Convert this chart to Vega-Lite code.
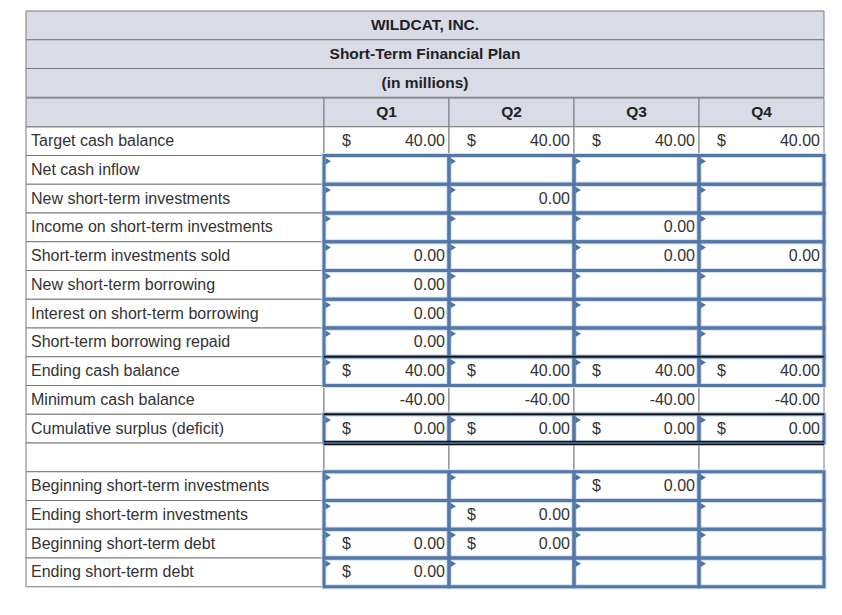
{
  "$schema": "https://vega.github.io/schema/vega-lite/v6.json",
  "padding": {"left": 25, "top": 10, "right": 19, "bottom": 30},
  "background": "white",
  "config": {"view": {"stroke": null}, "font": "Liberation Sans"},
  "datasets": {
    "titles": [
      {"r": 0, "t": "WILDCAT, INC."},
      {"r": 1, "t": "Short-Term Financial Plan"},
      {"r": 2, "t": "(in millions)"}
    ],
    "labels": [
      {"r": 0, "label": ""},
      {"r": 1, "label": "Target cash balance"},
      {"r": 2, "label": "Net cash inflow"},
      {"r": 3, "label": "New short-term investments"},
      {"r": 4, "label": "Income on short-term investments"},
      {"r": 5, "label": "Short-term investments sold"},
      {"r": 6, "label": "New short-term borrowing"},
      {"r": 7, "label": "Interest on short-term borrowing"},
      {"r": 8, "label": "Short-term borrowing repaid"},
      {"r": 9, "label": "Ending cash balance"},
      {"r": 10, "label": "Minimum cash balance"},
      {"r": 11, "label": "Cumulative surplus (deficit)"},
      {"r": 12, "label": ""},
      {"r": 13, "label": "Beginning short-term investments"},
      {"r": 14, "label": "Ending short-term investments"},
      {"r": 15, "label": "Beginning short-term debt"},
      {"r": 16, "label": "Ending short-term debt"}
    ],
    "qhead": [
      {"r": 0, "q": "Q1"}, {"r": 0, "q": "Q2"}, {"r": 0, "q": "Q3"}, {"r": 0, "q": "Q4"}
    ],
    "cells": [
      {"r": 1, "q": "Q1", "d": "$", "v": "40.00", "inp": false},
      {"r": 1, "q": "Q2", "d": "$", "v": "40.00", "inp": false},
      {"r": 1, "q": "Q3", "d": "$", "v": "40.00", "inp": false},
      {"r": 1, "q": "Q4", "d": "$", "v": "40.00", "inp": false},
      {"r": 2, "q": "Q1", "d": "", "v": "", "inp": true},
      {"r": 2, "q": "Q2", "d": "", "v": "", "inp": true},
      {"r": 2, "q": "Q3", "d": "", "v": "", "inp": true},
      {"r": 2, "q": "Q4", "d": "", "v": "", "inp": true},
      {"r": 3, "q": "Q1", "d": "", "v": "", "inp": true},
      {"r": 3, "q": "Q2", "d": "", "v": "0.00", "inp": true},
      {"r": 3, "q": "Q3", "d": "", "v": "", "inp": true},
      {"r": 3, "q": "Q4", "d": "", "v": "", "inp": true},
      {"r": 4, "q": "Q1", "d": "", "v": "", "inp": true},
      {"r": 4, "q": "Q2", "d": "", "v": "", "inp": true},
      {"r": 4, "q": "Q3", "d": "", "v": "0.00", "inp": true},
      {"r": 4, "q": "Q4", "d": "", "v": "", "inp": true},
      {"r": 5, "q": "Q1", "d": "", "v": "0.00", "inp": true},
      {"r": 5, "q": "Q2", "d": "", "v": "", "inp": true},
      {"r": 5, "q": "Q3", "d": "", "v": "0.00", "inp": true},
      {"r": 5, "q": "Q4", "d": "", "v": "0.00", "inp": true},
      {"r": 6, "q": "Q1", "d": "", "v": "0.00", "inp": true},
      {"r": 6, "q": "Q2", "d": "", "v": "", "inp": true},
      {"r": 6, "q": "Q3", "d": "", "v": "", "inp": true},
      {"r": 6, "q": "Q4", "d": "", "v": "", "inp": true},
      {"r": 7, "q": "Q1", "d": "", "v": "0.00", "inp": true},
      {"r": 7, "q": "Q2", "d": "", "v": "", "inp": true},
      {"r": 7, "q": "Q3", "d": "", "v": "", "inp": true},
      {"r": 7, "q": "Q4", "d": "", "v": "", "inp": true},
      {"r": 8, "q": "Q1", "d": "", "v": "0.00", "inp": true},
      {"r": 8, "q": "Q2", "d": "", "v": "", "inp": true},
      {"r": 8, "q": "Q3", "d": "", "v": "", "inp": true},
      {"r": 8, "q": "Q4", "d": "", "v": "", "inp": true},
      {"r": 9, "q": "Q1", "d": "$", "v": "40.00", "inp": true},
      {"r": 9, "q": "Q2", "d": "$", "v": "40.00", "inp": true},
      {"r": 9, "q": "Q3", "d": "$", "v": "40.00", "inp": true},
      {"r": 9, "q": "Q4", "d": "$", "v": "40.00", "inp": true},
      {"r": 10, "q": "Q1", "d": "", "v": "-40.00", "inp": false},
      {"r": 10, "q": "Q2", "d": "", "v": "-40.00", "inp": false},
      {"r": 10, "q": "Q3", "d": "", "v": "-40.00", "inp": false},
      {"r": 10, "q": "Q4", "d": "", "v": "-40.00", "inp": false},
      {"r": 11, "q": "Q1", "d": "$", "v": "0.00", "inp": true},
      {"r": 11, "q": "Q2", "d": "$", "v": "0.00", "inp": true},
      {"r": 11, "q": "Q3", "d": "$", "v": "0.00", "inp": true},
      {"r": 11, "q": "Q4", "d": "$", "v": "0.00", "inp": true},
      {"r": 12, "q": "Q1", "d": "", "v": "", "inp": false},
      {"r": 12, "q": "Q2", "d": "", "v": "", "inp": false},
      {"r": 12, "q": "Q3", "d": "", "v": "", "inp": false},
      {"r": 12, "q": "Q4", "d": "", "v": "", "inp": false},
      {"r": 13, "q": "Q1", "d": "", "v": "", "inp": true},
      {"r": 13, "q": "Q2", "d": "", "v": "", "inp": true},
      {"r": 13, "q": "Q3", "d": "$", "v": "0.00", "inp": true},
      {"r": 13, "q": "Q4", "d": "", "v": "", "inp": true},
      {"r": 14, "q": "Q1", "d": "", "v": "", "inp": true},
      {"r": 14, "q": "Q2", "d": "$", "v": "0.00", "inp": true},
      {"r": 14, "q": "Q3", "d": "", "v": "", "inp": true},
      {"r": 14, "q": "Q4", "d": "", "v": "", "inp": true},
      {"r": 15, "q": "Q1", "d": "$", "v": "0.00", "inp": true},
      {"r": 15, "q": "Q2", "d": "$", "v": "0.00", "inp": true},
      {"r": 15, "q": "Q3", "d": "", "v": "", "inp": true},
      {"r": 15, "q": "Q4", "d": "", "v": "", "inp": true},
      {"r": 16, "q": "Q1", "d": "$", "v": "0.00", "inp": true},
      {"r": 16, "q": "Q2", "d": "", "v": "", "inp": true},
      {"r": 16, "q": "Q3", "d": "", "v": "", "inp": true},
      {"r": 16, "q": "Q4", "d": "", "v": "", "inp": true}
    ],
    "heavy": [{"r": 9}, {"r": 11}],
    "double": [{"r": 12}]
  },
  "spacing": 0,
  "bounds": "flush",
  "vconcat": [
    {
      "width": 798,
      "height": 86.25,
      "data": {"name": "titles"},
      "layer": [
        {
          "mark": {"type": "rect", "fill": "#d9dbe6", "stroke": "#7a7a7a", "strokeWidth": 1},
          "encoding": {
            "y": {"field": "r", "type": "ordinal", "axis": null, "scale": {"type": "band", "domain": [0, 1, 2], "paddingInner": 0, "paddingOuter": 0}}
          }
        },
        {
          "mark": {"type": "text", "fontWeight": "bold", "fontSize": 15.5, "color": "#222222", "baseline": "middle", "align": "center"},
          "encoding": {
            "y": {"field": "r", "type": "ordinal", "bandPosition": 0.5, "axis": null, "scale": {"type": "band", "domain": [0, 1, 2], "paddingInner": 0, "paddingOuter": 0}},
            "text": {"field": "t"}
          }
        }
      ]
    },
    {
      "spacing": 0,
      "bounds": "flush",
      "hconcat": [
        {
          "width": 298,
          "height": 488.75,
          "data": {"name": "labels"},
          "layer": [
            {
              "transform": [{"filter": "datum.r > 0"}],
              "mark": {"type": "rect", "fill": "white", "stroke": "#7a7a7a", "strokeWidth": 1},
              "encoding": {
                "y": {"field": "r", "type": "ordinal", "axis": null, "scale": {"type": "band", "domain": [0,1,2,3,4,5,6,7,8,9,10,11,12,13,14,15,16], "paddingInner": 0, "paddingOuter": 0}}
              }
            },
            {
              "transform": [{"filter": "datum.r == 0"}],
              "mark": {"type": "rect", "fill": "#d9dbe6", "stroke": "#7a7a7a", "strokeWidth": 1},
              "encoding": {
                "y": {"field": "r", "type": "ordinal", "axis": null, "scale": {"type": "band", "domain": [0,1,2,3,4,5,6,7,8,9,10,11,12,13,14,15,16], "paddingInner": 0, "paddingOuter": 0}}
              }
            },
            {
              "mark": {"type": "text", "align": "left", "baseline": "middle", "dx": 5, "fontSize": 16, "color": "#333333"},
              "encoding": {
                "x": {"datum": "label", "type": "nominal", "bandPosition": 0, "axis": null, "scale": {"type": "band", "domain": ["label"], "paddingInner": 0, "paddingOuter": 0}},
                "y": {"field": "r", "type": "ordinal", "bandPosition": 0.5, "axis": null, "scale": {"type": "band", "domain": [0,1,2,3,4,5,6,7,8,9,10,11,12,13,14,15,16], "paddingInner": 0, "paddingOuter": 0}},
                "text": {"field": "label"}
              }
            }
          ]
        },
        {
          "width": 500,
          "height": 488.75,
          "encoding": {
            "x": {"field": "q", "type": "nominal", "axis": null, "scale": {"type": "band", "domain": ["Q1", "Q2", "Q3", "Q4"], "paddingInner": 0, "paddingOuter": 0}},
            "y": {"field": "r", "type": "ordinal", "axis": null, "scale": {"type": "band", "domain": [0,1,2,3,4,5,6,7,8,9,10,11,12,13,14,15,16], "paddingInner": 0, "paddingOuter": 0}}
          },
          "layer": [
            {
              "data": {"name": "qhead"},
              "mark": {"type": "rect", "fill": "#d9dbe6", "stroke": "#7a7a7a", "strokeWidth": 1}
            },
            {
              "data": {"name": "cells"},
              "mark": {"type": "rect", "fill": "white", "stroke": "#7a7a7a", "strokeWidth": 1}
            },
            {
              "data": {"name": "cells"},
              "transform": [{"filter": "datum.inp"}],
              "mark": {"type": "rect", "fill": "white", "fillOpacity": 0, "stroke": "#cfe0f4", "strokeWidth": 5}
            },
            {
              "data": {"name": "cells"},
              "transform": [{"filter": "datum.inp"}],
              "mark": {"type": "rect", "fill": "white", "fillOpacity": 0, "stroke": "#5477a6", "strokeWidth": 3}
            },
            {
              "data": {"name": "heavy"},
              "mark": {"type": "rule", "color": "#111111", "strokeWidth": 1.5},
              "encoding": {
                "x": null,
                "y": {"field": "r", "type": "ordinal", "bandPosition": 0, "axis": null, "scale": {"type": "band", "domain": [0,1,2,3,4,5,6,7,8,9,10,11,12,13,14,15,16], "paddingInner": 0, "paddingOuter": 0}}
              }
            },
            {
              "data": {"name": "double"},
              "mark": {"type": "rule", "color": "#111111", "strokeWidth": 1.3, "yOffset": -1.5},
              "encoding": {
                "x": null,
                "y": {"field": "r", "type": "ordinal", "bandPosition": 0, "axis": null, "scale": {"type": "band", "domain": [0,1,2,3,4,5,6,7,8,9,10,11,12,13,14,15,16], "paddingInner": 0, "paddingOuter": 0}}
              }
            },
            {
              "data": {"name": "double"},
              "mark": {"type": "rule", "color": "#111111", "strokeWidth": 1.3, "yOffset": 1.5},
              "encoding": {
                "x": null,
                "y": {"field": "r", "type": "ordinal", "bandPosition": 0, "axis": null, "scale": {"type": "band", "domain": [0,1,2,3,4,5,6,7,8,9,10,11,12,13,14,15,16], "paddingInner": 0, "paddingOuter": 0}}
              }
            },
            {
              "data": {"name": "cells"},
              "transform": [{"filter": "datum.inp"}],
              "mark": {"type": "point", "shape": "triangle-right", "filled": true, "color": "#4a72ad", "opacity": 1, "size": 40},
              "encoding": {
                "x": {"field": "q", "type": "nominal", "bandPosition": 0.034, "axis": null, "scale": {"type": "band", "domain": ["Q1", "Q2", "Q3", "Q4"], "paddingInner": 0, "paddingOuter": 0}},
                "y": {"field": "r", "type": "ordinal", "bandPosition": 0.2, "axis": null, "scale": {"type": "band", "domain": [0,1,2,3,4,5,6,7,8,9,10,11,12,13,14,15,16], "paddingInner": 0, "paddingOuter": 0}}
              }
            },
            {
              "data": {"name": "cells"},
              "mark": {"type": "text", "align": "right", "baseline": "middle", "dx": -4, "fontSize": 16, "color": "#333333"},
              "encoding": {
                "x": {"field": "q", "type": "nominal", "bandPosition": 1, "axis": null, "scale": {"type": "band", "domain": ["Q1", "Q2", "Q3", "Q4"], "paddingInner": 0, "paddingOuter": 0}},
                "y": {"field": "r", "type": "ordinal", "bandPosition": 0.5, "axis": null, "scale": {"type": "band", "domain": [0,1,2,3,4,5,6,7,8,9,10,11,12,13,14,15,16], "paddingInner": 0, "paddingOuter": 0}},
                "text": {"field": "v"}
              }
            },
            {
              "data": {"name": "cells"},
              "mark": {"type": "text", "align": "left", "baseline": "middle", "dx": 18, "fontSize": 16, "color": "#333333"},
              "encoding": {
                "x": {"field": "q", "type": "nominal", "bandPosition": 0, "axis": null, "scale": {"type": "band", "domain": ["Q1", "Q2", "Q3", "Q4"], "paddingInner": 0, "paddingOuter": 0}},
                "y": {"field": "r", "type": "ordinal", "bandPosition": 0.5, "axis": null, "scale": {"type": "band", "domain": [0,1,2,3,4,5,6,7,8,9,10,11,12,13,14,15,16], "paddingInner": 0, "paddingOuter": 0}},
                "text": {"field": "d"}
              }
            },
            {
              "data": {"name": "qhead"},
              "mark": {"type": "text", "align": "center", "baseline": "middle", "fontSize": 15.5, "fontWeight": "bold", "color": "#222222"},
              "encoding": {
                "x": {"field": "q", "type": "nominal", "bandPosition": 0.5, "axis": null, "scale": {"type": "band", "domain": ["Q1", "Q2", "Q3", "Q4"], "paddingInner": 0, "paddingOuter": 0}},
                "y": {"field": "r", "type": "ordinal", "bandPosition": 0.5, "axis": null, "scale": {"type": "band", "domain": [0,1,2,3,4,5,6,7,8,9,10,11,12,13,14,15,16], "paddingInner": 0, "paddingOuter": 0}},
                "text": {"field": "q"}
              }
            }
          ]
        }
      ]
    }
  ]
}
